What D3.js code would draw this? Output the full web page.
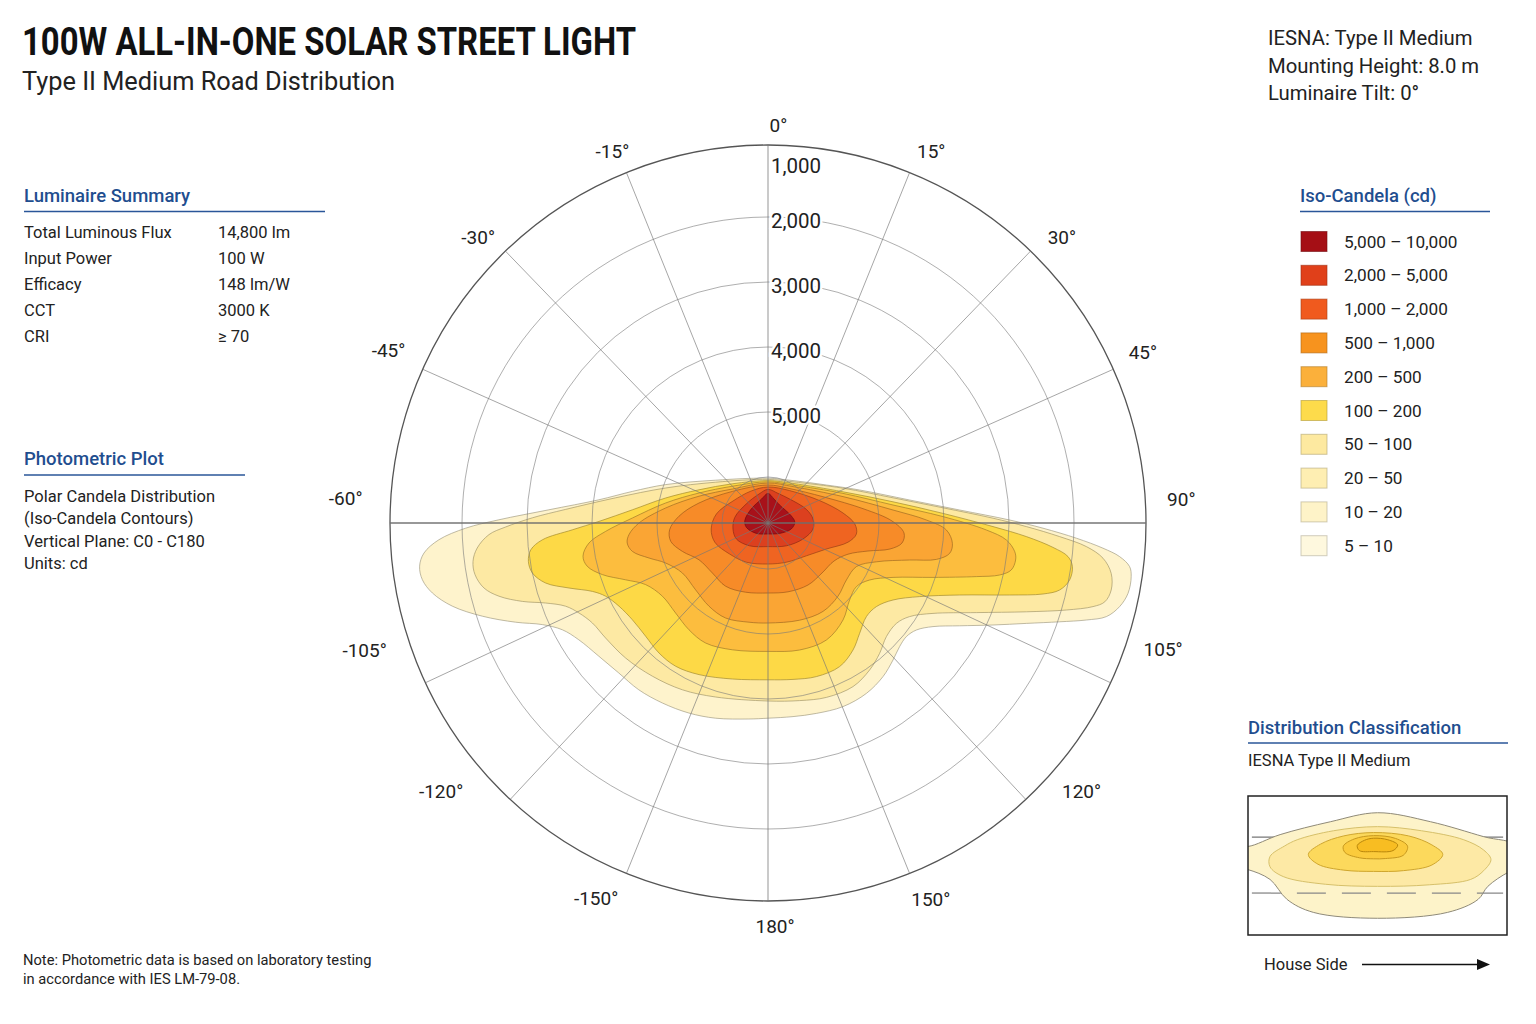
<!DOCTYPE html>
<html>
<head>
<meta charset="utf-8">
<script src="https://cdn.jsdelivr.net/npm/d3@7"></script>
<style>
  body { margin: 0; background: #fff; }
  text { font-family: Roboto, "Noto Sans", "Liberation Sans", sans-serif; }
</style>
</head>
<body>
<svg id="chart" width="1536" height="1024"></svg>
<script>
// ---- chart values ----
var titleText = "100W ALL-IN-ONE SOLAR STREET LIGHT";
var subtitleText = "Type II Medium Road Distribution";
var headerLines = ["IESNA: Type II Medium", "Mounting Height: 8.0 m", "Luminaire Tilt: 0°"];

var summaryLabels = ["Total Luminous Flux", "Input Power", "Efficacy", "CCT", "CRI"];
var summaryValues = ["14,800 lm", "100 W", "148 lm/W", "3000 K", "≥ 70"];
var plotLines = ["Polar Candela Distribution", "(Iso-Candela Contours)", "Vertical Plane: C0 - C180", "Units: cd"];
var noteLines = ["Note: Photometric data is based on laboratory testing", "in accordance with IES LM-79-08."];

var legendLabels = ["5,000 – 10,000", "2,000 – 5,000", "1,000 – 2,000", "500 – 1,000", "200 – 500",
                    "100 – 200", "50 – 100", "20 – 50", "10 – 20", "5 – 10"];
var legendColors = ["#a50f15", "#e0401a", "#f05a1e", "#f7931e", "#fbb03b",
                    "#fddb4b", "#fde9a0", "#feeeb2", "#fef3c8", "#fef8de"];

// candela rings (inner ring unlabeled, outer edge = 1,000)
var ringValues = [6000, 5000, 4000, 3000, 2000];
var ringLabelValues = [5000, 4000, 3000, 2000, 1000];

// radial grid lines (deg, clockwise from top)
var spokeAngles = [0, 22, 44, 66, 90, 115, 137, 158, 180, -22, -44, -66, -90, -115, -137, -158];

// angle tick labels, their angle and distance from centre
var angleLabels = ["0°", "15°", "30°", "45°", "90°", "105°", "120°", "150°", "180°",
                   "-15°", "-30°", "-45°", "-60°", "-105°", "-120°", "-150°"];
var angleLabelPos = [1.5, 23.7, 45.8, 65.5, 86.8, 107.8, 130.6, 156.6, 179,
                     -22.7, -45.4, -65.5, -86.7, -107.5, -129.4, -155.4];
var angleLabelDist = [398, 406, 410, 412, 414, 415, 413, 410, 404,
                      403, 407, 417, 423, 423, 423, 413];

// iso-candela contours, plot units (outer ring = 95), x right, y up
var contourLevels = [5, 20, 50, 100, 200, 500, 1000, 2000, 5000];
var contourFills = ["#fef3cc", "#fde9a3", "#fdd946", "#fcbd3e", "#faa534", "#f78b28", "#ef6421", "#dc401f", "#a8111a"];

var iso5 = [[0,11.2],[6.25,10.6],[14.6,9.5],[22.9,8.25],[35.4,5.75],[47.9,3.25],[60.4,0.75],[68.75,-1.3],[77.1,-3.8],
  [83.75,-6.3],[87.9,-8.4],[90.4,-10.9],[90.8,-13.4],[90,-17.6],[87.9,-20.9],[84.6,-23.4],[79.6,-24.25],[72.9,-24.7],
  [64.6,-25.1],[56.25,-25.5],[47.9,-25.7],[41.25,-25.9],[37.1,-26.75],[34.6,-28.4],[32.9,-30.9],[31.25,-34.25],
  [28.75,-38.4],[24.6,-42.6],[18.75,-45.9],[12.1,-47.6],[6.25,-48.4],[0,-48.8],[-4.8,-49],[-13.1,-48.8],[-19.8,-47.5],
  [-26.4,-45],[-32.3,-41.7],[-37.3,-37.5],[-42.3,-33.3],[-47.3,-29.2],[-51.4,-26.7],[-56.4,-25.4],[-63.1,-24.8],
  [-71.4,-23.3],[-78.9,-20.8],[-83.9,-17.5],[-86.4,-14.2],[-87.1,-10.8],[-86,-7.5],[-82.3,-4.2],[-75.6,-1.3],
  [-67.3,0.8],[-54.8,3.3],[-42.3,5.8],[-33.9,7.9],[-25.6,9.6],[-13.1,10.7]];
var iso20 = [[0,10.9],[6.25,10.3],[18.75,8.7],[31.25,6.3],[43.75,3.8],[56.25,1.2],[64.6,-0.9],[72.9,-3.4],[79.6,-5.9],
  [83.75,-8.8],[85.8,-12.6],[85.8,-16.75],[84.2,-19.7],[81.25,-20.9],[74.6,-21.75],[64.6,-22.2],[52.1,-22.4],
  [41.25,-22.6],[35.4,-23.4],[32.1,-25.1],[29.6,-28.4],[27.9,-32.6],[25.4,-36.75],[21.25,-40.9],[14.6,-43.6],
  [7.9,-44.4],[0,-44.5],[-13.1,-43.5],[-21.4,-41.7],[-28.9,-38.3],[-35.6,-33.75],[-40.6,-28.75],[-43.9,-25],
  [-47.25,-22.5],[-50.6,-20.8],[-55.6,-20],[-61.4,-19.6],[-67.25,-18.3],[-71,-16.25],[-73.25,-12.9],[-73.75,-9.6],
  [-72.7,-6.25],[-69.75,-2.9],[-65.6,-1],[-58.9,1.3],[-50.6,3.4],[-38.1,6.3],[-25.6,8.75],[-13.1,10.2]];
var iso50 = [[0,10.6],[6.25,9.9],[18.75,7.8],[31.25,5.3],[43.75,2.4],[56.25,-0.9],[64.6,-3.4],[71.25,-6.1],[75,-8.4],
  [76.1,-10.9],[75.4,-14.25],[72.9,-16.75],[68.75,-17.75],[60.4,-18],[47.9,-18],[37.9,-18.4],[31.25,-19.25],
  [27.1,-20.9],[24.6,-23.4],[22.9,-27.6],[21.25,-31.75],[17.9,-35.9],[12.1,-38.4],[6.25,-39.1],[0,-39.2],[-8.9,-39],
  [-17.25,-37.9],[-23.1,-35.8],[-27.25,-32.5],[-30.6,-28.3],[-33.9,-24.2],[-37.25,-20.8],[-40.6,-18.3],[-43.9,-17.1],
  [-49.75,-16.25],[-55.6,-15],[-58.9,-12.5],[-59.9,-9.6],[-59.3,-6.7],[-56.4,-4.2],[-48.9,-1.7],[-42.25,0.4],
  [-33.9,3.3],[-25.6,6.25],[-17.25,8.3],[-8.9,9.8]];
var iso100 = [[0,10.3],[6.25,9.5],[18.75,7.4],[31.25,4.5],[43.75,1.6],[54.6,-1.75],[59.6,-4.25],[61.7,-7.2],[61.9,-9.25],
  [60.8,-11.75],[57.9,-13],[52.1,-13.4],[41.25,-13.6],[31.25,-13.6],[25.4,-14.25],[22.1,-15.9],[20.4,-19.25],
  [18.75,-24.25],[14.6,-29.25],[7.9,-31.75],[0,-32.1],[-8.9,-31.7],[-15.6,-30],[-19.75,-26.7],[-23.1,-22.5],
  [-26.4,-18.3],[-30.6,-15.4],[-35.6,-14.2],[-41.4,-12.9],[-45.2,-10.8],[-46.25,-8.3],[-44.75,-5],[-40.6,-2.1],
  [-33.9,1.25],[-25.6,5],[-17.25,7.5],[-8.9,9.2]];
var iso200 = [[0,10],[6.25,9.1],[18.75,6.6],[31.25,3.25],[39.6,0.75],[44.6,-1.75],[46.1,-5.1],[45.4,-7.6],[42.1,-9.1],
  [35.4,-9.25],[27.1,-9.7],[22.1,-10.9],[19.6,-14.25],[17.5,-18.3],[13.75,-22.1],[7.9,-24.3],[0,-25],[-4.75,-24.8],
  [-10.6,-23.75],[-14.75,-20.8],[-18.1,-16.7],[-21.4,-12.5],[-25.6,-10],[-29.75,-8.75],[-33.9,-7.1],[-35.2,-5],
  [-34.75,-2.9],[-32.25,0],[-25.6,3.75],[-17.25,6.7],[-8.9,8.5]];
var iso500 = [[0,9.5],[5,8.7],[14,6.5],[24,3.5],[31,0.5],[34,-2.5],[33.5,-5],[30.5,-6.5],[25,-7],[20,-7.8],[16.5,-9.5],
  [13.5,-12.5],[10,-15.5],[5,-17.2],[0,-17.5],[-5.6,-17.3],[-10.6,-15.8],[-13.9,-12.5],[-17.25,-9.2],[-21.4,-7.1],
  [-24.3,-4.6],[-24.6,-1.7],[-22.25,1.7],[-17.25,5],[-8.9,7.9]];
var iso1000 = [[0,9],[5.4,8.1],[12.9,5.6],[18.75,2.5],[21.7,-0.25],[22.1,-2.75],[20,-4.8],[14.6,-6.5],[9.6,-8.2],
  [4.6,-9.8],[0,-10.25],[-5.4,-9.8],[-9.6,-7.75],[-13.3,-4.8],[-14.2,-1.5],[-12.9,2.25],[-8.75,5.5],[-4.2,8]];
var iso2000 = [[0,8.4],[2.5,7.4],[5.4,6],[9.6,3.4],[11.25,1],[11.25,-1.5],[8.75,-4],[4.6,-5.7],[0,-5.9],[-4.6,-5.7],
  [-7.9,-4],[-8.75,-1.5],[-8.3,1.4],[-5.4,4.8],[-2.3,7.2]];
var iso5000 = [[0,7.4],[1.5,6],[2.9,4.5],[5.8,1.8],[6.7,0.2],[5.8,-1.5],[2.9,-2.6],[0,-2.75],[-2.9,-2.6],[-5.4,-1.1],
  [-5.8,0.6],[-4.2,3.5],[-1.6,6]];
var contours = [iso5, iso20, iso50, iso100, iso200, iso500, iso1000, iso2000, iso5000];

// small plan-view inset (box units)
var insetOuter = [[0,20.5],[20.5,17],[41,11.2],[54,7.5],[54,-1.5],[50.4,-2.7],[42.6,-8.1],[38.8,-13.2],[27.1,-18.2],
  [0,-20.5],[-24.8,-18.2],[-34.9,-13.2],[-41.5,-5.4],[-50,-1.6],[-54,-1],[-54,8],[-50,7.4],[-37.6,12],[-18.2,17]];
var insetBand2 = [[0,15.1],[17,13.5],[33.3,10],[41,6],[43.8,2.3],[41,-2],[36,-5.4],[20,-7.5],[0,-8.1],[-20,-7.3],
  [-36.4,-4.3],[-41.5,-0.5],[-41.5,3.5],[-36,7.5],[-31,10],[-17,13.5]];
var insetBand3 = [[-1.5,12.8],[12,11.5],[21,8],[25.2,4.3],[21,0.2],[10,-2],[-1.5,-2.3],[-13,-1.8],[-23,0.5],
  [-26.7,4.3],[-22,8.3],[-13,11.5]];
var insetBand4 = [[-1.5,11.6],[7,10.5],[11.6,7.5],[10,4],[3,2.7],[-1.5,2.6],[-7,3],[-12.5,5],[-13.2,7.5],[-9,10.3]];
var insetCore = [[-1.5,10.6],[4,10],[7.8,8],[6,5.8],[-1.5,5.4],[-7,5.8],[-7.8,7.8],[-5,9.8]];
var insetShapes = [insetOuter, insetBand2, insetBand3, insetBand4, insetCore];
var insetFills = ["#fdf3c9", "#fde9a5", "#fcd95c", "#fbcb3c", "#f8bd22"];
var insetStrokes = ["#8f8a78", "#d6c06a", "#cfa62e", "#c7981e", "#b8860b"];
var insetCurbY = 11;      // solid curb line
var insetDashY = -10.7;   // dashed centre line

// ---- layout ----
var svg = d3.select("#chart");
var cx = 768, cy = 523, R = 378;
var blue = "#1f4e8f";

// ---- headers ----
svg.append("text").attr("x", 22).attr("y", 55)
  .attr("font-size", 38).attr("font-weight", 700).attr("fill", "#111")
  .attr("textLength", 614).attr("lengthAdjust", "spacingAndGlyphs")
  .text(titleText);
svg.append("text").attr("x", 22).attr("y", 90)
  .attr("font-size", 26).attr("fill", "#222")
  .attr("textLength", 373).attr("lengthAdjust", "spacingAndGlyphs")
  .text(subtitleText);

svg.selectAll(".hdr").data(headerLines).enter().append("text")
  .attr("class", "hdr").attr("x", 1268).attr("y", function (d, i) { return 45 + i * 27.5; })
  .attr("font-size", 20.3).attr("fill", "#222").text(function (d) { return d; });

// ---- left panel ----
function heading(x, y, w, label) {
  svg.append("text").attr("x", x).attr("y", y).attr("font-size", 18.5)
    .attr("font-weight", 500).attr("fill", blue).text(label);
  svg.append("line").attr("x1", x).attr("x2", x + w).attr("y1", y + 10).attr("y2", y + 10)
    .attr("stroke", "#2a5699").attr("stroke-width", 1.6);
}
heading(24, 201.5, 301, "Luminaire Summary");
summaryLabels.forEach(function (d, i) {
  svg.append("text").attr("x", 24).attr("y", 238 + i * 26).attr("font-size", 16.5).attr("fill", "#222").text(d);
  svg.append("text").attr("x", 218).attr("y", 238 + i * 26).attr("font-size", 16.5).attr("fill", "#222").text(summaryValues[i]);
});
heading(24, 465, 221, "Photometric Plot");
plotLines.forEach(function (d, i) {
  svg.append("text").attr("x", 24).attr("y", 501.5 + i * 22.6).attr("font-size", 16.5).attr("fill", "#222").text(d);
});
noteLines.forEach(function (d, i) {
  svg.append("text").attr("x", 23).attr("y", 965 + i * 18.5).attr("font-size", 14.7).attr("fill", "#222").text(d);
});

// ---- polar plot ----
var g = svg.append("g");
var rScale = d3.scaleLinear().domain([6000, 1000]).range([46, 371]);
var px = d3.scaleLinear().domain([-95, 95]).range([cx - 380, cx + 380]);
var py = d3.scaleLinear().domain([-95, 95]).range([cy + 380, cy - 380]);

var contourLine = d3.line()
  .x(function (d) { return px(d[0]); })
  .y(function (d) { return py(d[1]); })
  .curve(d3.curveCatmullRomClosed.alpha(0.5));

g.selectAll(".iso").data(contours).enter().append("path")
  .attr("class", "iso")
  .attr("d", contourLine)
  .attr("fill", function (d, i) { return contourFills[i]; })
  .attr("stroke", function (d, i) { return d3.color(contourFills[i]).darker(1.3); })
  .attr("stroke-opacity", 0.75)
  .attr("stroke-width", 0.9);

// rings
g.selectAll(".ring").data(ringValues).enter().append("circle")
  .attr("class", "ring").attr("cx", cx).attr("cy", cy)
  .attr("r", function (d) { return rScale(d); })
  .attr("fill", "none")
  .attr("stroke", "#7a7a7a").attr("stroke-opacity", 0.6).attr("stroke-width", 1);
g.append("circle").attr("cx", cx).attr("cy", cy).attr("r", R)
  .attr("fill", "none").attr("stroke", "#555").attr("stroke-width", 1.3);

// spokes
var rad = function (a) { return a * Math.PI / 180; };
g.selectAll(".spoke").data(spokeAngles).enter().append("line")
  .attr("class", "spoke")
  .attr("x1", cx).attr("y1", cy)
  .attr("x2", function (d) { return cx + R * Math.sin(rad(d)); })
  .attr("y2", function (d) { return cy - R * Math.cos(rad(d)); })
  .attr("stroke", function (d) { return Math.abs(d) === 90 ? "#6e6e6e" : "#777"; })
  .attr("stroke-opacity", function (d) { return Math.abs(d) === 90 ? 0.95 : 0.65; })
  .attr("stroke-width", function (d) { return Math.abs(d) === 90 ? 1.6 : (d === 0 || d === 180 ? 1.2 : 1); });

// ring labels
g.selectAll(".rlab").data(ringLabelValues).enter().append("text")
  .attr("class", "rlab")
  .attr("x", cx + 3)
  .attr("y", function (d) { return cy - rScale(d) + (d === 1000 ? 14 : 4); })
  .attr("dominant-baseline", "central")
  .attr("font-size", 20.5).attr("fill", "#222")
  .attr("stroke", "#fff").attr("stroke-width", 5).attr("paint-order", "stroke")
  .text(function (d) { return d3.format(",")(d); });

// angle labels
g.selectAll(".alab").data(angleLabels).enter().append("text")
  .attr("class", "alab")
  .attr("x", function (d, i) { return cx + angleLabelDist[i] * Math.sin(rad(angleLabelPos[i])); })
  .attr("y", function (d, i) { return cy - angleLabelDist[i] * Math.cos(rad(angleLabelPos[i])); })
  .attr("text-anchor", "middle").attr("dominant-baseline", "central")
  .attr("font-size", 19).attr("fill", "#222")
  .text(function (d) { return d; });

// ---- legend ----
svg.append("text").attr("x", 1300).attr("y", 201.5).attr("font-size", 18.5)
  .attr("font-weight", 500).attr("fill", blue).text("Iso-Candela (cd)");
svg.append("line").attr("x1", 1300).attr("x2", 1490).attr("y1", 211.5).attr("y2", 211.5)
  .attr("stroke", "#2a5699").attr("stroke-width", 1.6);
var leg = svg.selectAll(".leg").data(legendLabels).enter().append("g")
  .attr("class", "leg")
  .attr("transform", function (d, i) { return "translate(1301," + (231.5 + i * 33.8) + ")"; });
leg.append("rect").attr("width", 26).attr("height", 20)
  .attr("fill", function (d, i) { return legendColors[i]; })
  .attr("stroke", function (d, i) { return d3.color(legendColors[i]).darker(1); })
  .attr("stroke-opacity", 0.6);
leg.append("text").attr("x", 43).attr("y", 10).attr("dominant-baseline", "central")
  .attr("font-size", 17.2).attr("fill", "#222").text(function (d) { return d; });

// ---- distribution classification inset ----
svg.append("text").attr("x", 1248).attr("y", 733.5).attr("font-size", 18.5)
  .attr("font-weight", 500).attr("fill", blue).text("Distribution Classification");
svg.append("line").attr("x1", 1248).attr("x2", 1508).attr("y1", 743).attr("y2", 743)
  .attr("stroke", "#2a5699").attr("stroke-width", 1.6);
svg.append("text").attr("x", 1248).attr("y", 766).attr("font-size", 16.5).attr("fill", "#222")
  .text("IESNA Type II Medium");

var ix = d3.scaleLinear().domain([-50, 50]).range([1248, 1507]);
var iy = d3.scaleLinear().domain([-27, 27]).range([935, 796]);
svg.append("clipPath").attr("id", "insetClip").append("rect")
  .attr("x", ix(-50)).attr("y", iy(27)).attr("width", ix(50) - ix(-50)).attr("height", iy(-27) - iy(27));
var inset = svg.append("g").attr("clip-path", "url(#insetClip)");
inset.append("line").attr("x1", ix(-48.5)).attr("x2", ix(48.5))
  .attr("y1", iy(insetCurbY)).attr("y2", iy(insetCurbY))
  .attr("stroke", "#777").attr("stroke-width", 1.2);
var insetLine = d3.line()
  .x(function (d) { return ix(d[0]); })
  .y(function (d) { return iy(d[1]); })
  .curve(d3.curveCatmullRomClosed.alpha(0.5));
inset.selectAll(".blob").data(insetShapes).enter().append("path")
  .attr("class", "blob").attr("d", insetLine)
  .attr("fill", function (d, i) { return insetFills[i]; })
  .attr("stroke", function (d, i) { return insetStrokes[i]; })
  .attr("stroke-width", 1);
inset.append("line").attr("x1", ix(-48.5)).attr("x2", ix(48.5))
  .attr("y1", iy(insetDashY)).attr("y2", iy(insetDashY))
  .attr("stroke", "#888").attr("stroke-width", 1.3).attr("stroke-dasharray", "29,16");
svg.append("rect").attr("x", ix(-50)).attr("y", iy(27))
  .attr("width", ix(50) - ix(-50)).attr("height", iy(-27) - iy(27))
  .attr("fill", "none").attr("stroke", "#222").attr("stroke-width", 1.5);

// house side arrow
svg.append("text").attr("x", 1264).attr("y", 970).attr("font-size", 16.5).attr("fill", "#222").text("House Side");
svg.append("line").attr("x1", 1362).attr("x2", 1479).attr("y1", 964.5).attr("y2", 964.5)
  .attr("stroke", "#111").attr("stroke-width", 1.5);
svg.append("path").attr("d", "M1477,959 L1490,964.5 L1477,970 Z").attr("fill", "#111");
</script>
</body>
</html>
